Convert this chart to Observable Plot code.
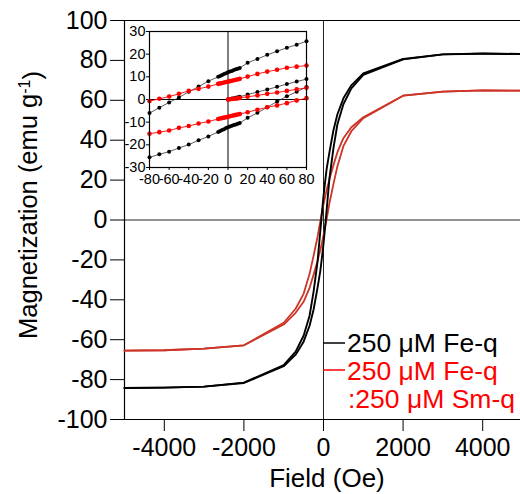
<!DOCTYPE html>
<html><head><meta charset="utf-8">
<script src="https://cdn.jsdelivr.net/npm/d3@7"></script>
<script src="https://cdn.jsdelivr.net/npm/@observablehq/plot@0.6"></script>
<style>
body{margin:0;background:#fff;}
#wrap{position:relative;width:520px;height:494px;overflow:hidden;}
#wrap svg{position:absolute;left:0;top:0;}
</style></head><body><div id="wrap"></div>
<script>
// ---------- main loop data (Field in Oe, Magnetization in emu/g) ----------
const mainFieldDesc = [5000,4000,3000,2000,1000,700,500,350,250,150,80,40,0,-40,-80,-150,-250,-350,-500,-700,-1000,-2000,-3000,-4000,-5000];
const mainFieldAsc  = [-5000,-4000,-3000,-2000,-1000,-700,-500,-350,-250,-150,-80,-40,0,40,80,150,250,350,500,700,1000,2000,3000,4000,5000];
const feDesc   = [83.2,83.5,83.0,80.7,73.5,67.5,61,53,45,34,25.7,19,12,3.5,-5.5,-21,-36,-48,-58,-66,-72.8,-81.5,-83.5,-84,-84.2];
const feAsc    = [-84.2,-84,-83.5,-81.7,-73.3,-67.5,-61,-53,-45,-34,-25.5,-19,-12,-3.5,5.2,21,36,48,58,66,72.8,80.5,83,83.3,83.2];
const feSmDesc = [64.8,65,64.3,62.3,51.5,46.5,41,34,27.5,20.5,15,11.5,7.9,3.8,-0.7,-8.5,-18,-27,-37,-44.5,-51.5,-62.8,-64.5,-65.3,-65.5];
const feSmAsc  = [-65.5,-65.3,-64.5,-62.8,-52.4,-46.5,-41,-34,-27.5,-20.5,-15,-11.5,-7.6,-3.8,0.6,8.5,18,27,37,44.5,51,62.3,64.3,65,64.8];

// ---------- inset data (low field) ----------
const insetFieldLoop   = [-80,-70,-60,-50,-40,-30,-20,-10,-8,-6,-4,-2,0,2,4,6,8,10,12,20,30,40,50,60,70,80];
const insetFieldVirgin = [0,2,4,6,8,10,12,20,30,40,50,60,70,80];
const feUpper   = [-6,-3.6,-1.3,0.9,3.4,5.7,8.1,10,10.4,10.8,11.2,11.6,12,12.3,12.6,13,13.3,13.6,13.9,16.2,17.9,19.7,21.3,22.8,24.2,25.7];
const feLower   = [-25.5,-24.2,-23,-21.4,-19.9,-18,-16.3,-14.3,-13.9,-13.5,-13.1,-12.6,-12.2,-11.9,-11.6,-11.3,-11,-10.7,-10.4,-8.1,-5.9,-3.4,-0.9,1.4,3.4,5.5];
const feVirgin  = [0,0.2,0.4,0.6,0.8,1.0,1.2,2.2,3.3,4.4,5.6,6.8,7.9,9.0];
const feSmUpper = [-0.7,0.3,1.3,2.5,3.8,4.7,5.7,6.9,7.1,7.3,7.5,7.7,7.9,8.1,8.3,8.5,8.7,8.9,9.1,10.1,11.3,12.3,13.1,14.0,14.5,15.0];
const feSmLower = [-15.1,-14.4,-13.7,-12.5,-11.7,-10.6,-9.7,-8.6,-8.4,-8.2,-8.0,-7.8,-7.6,-7.4,-7.2,-7.0,-6.8,-6.6,-6.4,-5.6,-4.5,-3.4,-2.6,-1.6,-0.4,0.6];
const feSmVirgin= [0,0.1,0.2,0.3,0.4,0.5,0.7,1.2,1.8,2.5,3.1,3.8,4.5,5.2];

// ---------- ticks & labels ----------
const xTicks = [-4000,-2000,0,2000,4000];
const yTicks = [-100,-80,-60,-40,-20,0,20,40,60,80,100];
const insetXTicks = [-80,-60,-40,-20,0,20,40,60,80];
const insetYTicks = [-30,-20,-10,0,10,20,30];
const seriesNames = ["250 μM Fe-q", "250 μM Fe-q", ":250 μM Sm-q"];
const xTitle = "Field (Oe)";
const yTitle = "Magnetization (emu g";

// ---------- build tables ----------
function rows(fields, values, series, branch) {
  return fields.map((H, i) => ({H, M: values[i], series, branch: series + "-" + branch}));
}
const mainFe = [...rows(mainFieldDesc, feDesc, "fe", "d"), ...rows(mainFieldAsc, feAsc, "fe", "a")];
const mainFeSm = [...rows(mainFieldDesc, feSmDesc, "fesm", "d"), ...rows(mainFieldAsc, feSmAsc, "fesm", "a")];
const insFe = [...rows(insetFieldLoop, feUpper, "fe", "u"), ...rows(insetFieldLoop, feLower, "fe", "l"), ...rows(insetFieldVirgin, feVirgin, "fe", "v")];
const insFeSm = [...rows(insetFieldLoop, feSmUpper, "fesm", "u"), ...rows(insetFieldLoop, feSmLower, "fesm", "l"), ...rows(insetFieldVirgin, feSmVirgin, "fesm", "v")];

const BLACK = "#000", RED_MAIN = "#cc3527", RED = "#ff0000";
const FONT = "'Liberation Sans', Arial, Helvetica, sans-serif";

const main = Plot.plot({
  width: 520, height: 494,
  marginTop: 20, marginBottom: 75, marginLeft: 124, marginRight: 0,
  style: {fontFamily: FONT, fontSize: "25px", background: "transparent", color: "#000", overflow: "visible"},
  x: {domain: [-5000, 4950], ticks: xTicks, tickSize: 12, tickPadding: 7, label: null, tickFormat: d => String(d)},
  y: {domain: [-100, 100], ticks: yTicks, tickSize: 14, tickPadding: 3, label: null, tickFormat: d => String(d)},
  marks: [
    Plot.ruleX([0], {stroke: "#222", strokeWidth: 1}),
    Plot.ruleY([0], {stroke: "#222", strokeWidth: 1}),
    Plot.ruleX([-5000], {stroke: "#000", strokeWidth: 1.2}),
    Plot.ruleY([100], {stroke: "#000", strokeWidth: 1.2}),
    Plot.ruleY([-100], {stroke: "#000", strokeWidth: 1.2}),
    Plot.line(mainFeSm, {x: "H", y: "M", z: "branch", stroke: RED_MAIN, strokeWidth: 1.8}),
    Plot.line(mainFe, {x: "H", y: "M", z: "branch", stroke: BLACK, strokeWidth: 1.9})
  ]
});

const inset = Plot.plot({
  width: 520, height: 200,
  marginTop: 31, marginBottom: 33, marginLeft: 149, marginRight: 214,
  style: {fontFamily: FONT, fontSize: "14.5px", background: "transparent", color: "#000", overflow: "visible"},
  x: {domain: [-80, 80], ticks: insetXTicks, tickSize: 3, tickPadding: 3, label: null, tickFormat: d => String(d)},
  y: {domain: [-30, 30], ticks: insetYTicks, tickSize: 3, tickPadding: 1, label: null, tickFormat: d => String(d)},
  marks: [
    Plot.ruleX([0], {stroke: "#000", strokeWidth: 1}),
    Plot.ruleY([0], {stroke: "#000", strokeWidth: 1}),
    Plot.line(insFe, {x: "H", y: "M", z: "branch", stroke: "#333", strokeWidth: 0.8}),
    Plot.dot(insFe, {x: "H", y: "M", r: 2, fill: BLACK, stroke: "none"}),
    Plot.line(insFeSm, {x: "H", y: "M", z: "branch", stroke: RED, strokeWidth: 0.9}),
    Plot.dot(insFeSm, {x: "H", y: "M", r: 2.3, fill: RED, stroke: "none"}),
    Plot.frame({stroke: "#000", strokeWidth: 1.2})
  ]
});

const wrap = document.getElementById("wrap");
wrap.appendChild(main);
wrap.appendChild(inset);

// titles & legend
const svg = d3.select(main);
const g = svg.append("g").attr("font-family", FONT).attr("fill", "#000").attr("text-anchor", "start");
g.append("text").attr("x", 327).attr("y", 487).attr("text-anchor", "middle").attr("font-size", 26).text(xTitle);
const yt = g.append("text").attr("transform", "translate(37,205) rotate(-90)").attr("text-anchor", "middle").attr("font-size", 25.5);
yt.append("tspan").text(yTitle);
yt.append("tspan").attr("dy", "-0.45em").attr("font-size", "16px").text("-1");
yt.append("tspan").attr("dy", "0.45em").text(")");

const leg = g.append("g").attr("font-size", 26.5).attr("text-anchor", "start");
leg.append("line").attr("x1", 323).attr("x2", 345).attr("y1", 343).attr("y2", 343).attr("stroke", BLACK).attr("stroke-width", 1.5);
leg.append("text").attr("x", 347).attr("y", 352).attr("fill", BLACK).text(seriesNames[0]);
leg.append("line").attr("x1", 323).attr("x2", 345).attr("y1", 370).attr("y2", 370).attr("stroke", RED).attr("stroke-width", 1.5);
leg.append("text").attr("x", 347).attr("y", 380).attr("fill", RED).text(seriesNames[1]);
leg.append("text").attr("x", 348).attr("y", 408).attr("fill", RED).text(seriesNames[2]);
</script></body></html>
